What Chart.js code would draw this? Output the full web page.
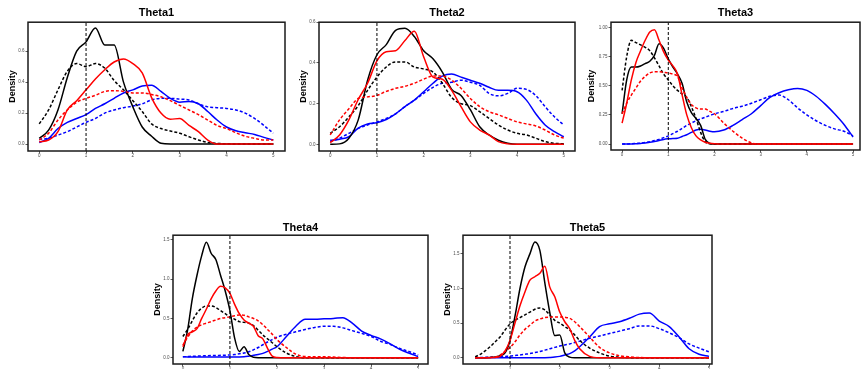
<!DOCTYPE html>
<html>
<head>
<meta charset="utf-8">
<script src="https://cdn.jsdelivr.net/npm/chart.js@4.4.1/dist/chart.umd.min.js"></script>
<style>
  html, body { margin: 0; padding: 0; background: #fff; width: 862px; height: 369px; overflow: hidden; }
  canvas { position: absolute; }
</style>
</head>
<body>
<canvas id="theta1"></canvas>
<canvas id="theta2"></canvas>
<canvas id="theta3"></canvas>
<canvas id="theta4"></canvas>
<canvas id="theta5"></canvas>
<script>
// ---- x grids (density evaluation points)
const xsCoarse = [0,0.2,0.4,0.6,0.8,1,1.2,1.4,1.6,1.8,2,2.2,2.4,2.6,2.8,3,3.2,3.4,3.6,3.8,4,4.2,4.4,4.6,4.8,5];
const xsFine   = [0,0.1,0.2,0.3,0.4,0.5,0.6,0.7,0.8,0.9,1,1.1,1.2,1.3,1.4,1.5,1.6,1.7,1.8,1.9,2,
                  2.2,2.4,2.6,2.8,3,3.2,3.4,3.6,3.8,4,4.2,4.4,4.6,4.8,5];
const xsTheta5 = [0.3,0.4,0.5,0.6,0.7,0.8,0.9,1,1.1,1.2,1.3,1.4,1.5,1.6,1.7,1.8,1.9,2,2.1,2.2,2.3,
                  2.4,2.6,2.8,3,3.2,3.4,3.6,3.8,4,4.2,4.4,4.6,4.8,5];

const trueValue = 1;

// ---- Theta1
const t1Black     = [0.037,0.09,0.22,0.43,0.6,0.66,0.75,0.64,0.64,0.4,0.24,0.11,0.05,0.005,0,0,0,0,0,0,0,0,0,0,0,0];
const t1BlackDash = [0.13,0.22,0.35,0.47,0.52,0.5,0.52,0.49,0.41,0.35,0.28,0.21,0.13,0.1,0.084,0.07,0.047,0.026,0.01,0.004,0.002,0,0,0,0,0];
const t1Red       = [0.015,0.026,0.08,0.22,0.28,0.35,0.42,0.48,0.53,0.55,0.52,0.46,0.3,0.2,0.16,0.165,0.12,0.08,0.026,0,0,0,0,0,0,0];
const t1RedDash   = [0.026,0.07,0.155,0.22,0.27,0.295,0.315,0.34,0.345,0.34,0.33,0.33,0.32,0.305,0.28,0.25,0.22,0.19,0.155,0.12,0.1,0.073,0.05,0.037,0.026,0.026];
const t1Blue      = [0.01,0.037,0.1,0.14,0.165,0.19,0.23,0.26,0.295,0.33,0.35,0.375,0.38,0.34,0.295,0.27,0.275,0.26,0.21,0.155,0.11,0.086,0.073,0.062,0.043,0.026];
const t1BlueDash  = [0.03,0.037,0.058,0.08,0.11,0.14,0.165,0.2,0.22,0.235,0.245,0.26,0.285,0.295,0.295,0.29,0.285,0.26,0.24,0.235,0.23,0.22,0.2,0.165,0.12,0.07];

// ---- Theta2
const t2Black     = [0,0.002,0.03,0.12,0.315,0.44,0.49,0.56,0.57,0.53,0.46,0.42,0.355,0.27,0.24,0.17,0.086,0.046,0.02,0.005,0,0,0,0,0,0];
const t2BlackDash = [0.054,0.086,0.135,0.19,0.265,0.33,0.38,0.405,0.405,0.38,0.37,0.355,0.3,0.23,0.2,0.19,0.16,0.127,0.095,0.07,0.054,0.046,0.03,0.013,0.005,0.002];
const t2Red       = [0.008,0.046,0.12,0.22,0.3,0.41,0.455,0.46,0.51,0.556,0.43,0.33,0.32,0.265,0.185,0.11,0.07,0.046,0.013,0.002,0,0,0,0,0,0];
const t2RedDash   = [0.046,0.12,0.175,0.225,0.233,0.24,0.26,0.275,0.285,0.3,0.32,0.335,0.335,0.315,0.275,0.225,0.185,0.16,0.145,0.127,0.11,0.1,0.09,0.07,0.046,0.03];
const t2Blue      = [0.02,0.025,0.037,0.08,0.1,0.106,0.122,0.15,0.185,0.217,0.258,0.3,0.335,0.345,0.33,0.315,0.3,0.28,0.265,0.265,0.258,0.217,0.15,0.095,0.062,0.037];
const t2BlueDash  = [0.013,0.03,0.054,0.078,0.095,0.11,0.127,0.15,0.185,0.217,0.25,0.28,0.3,0.305,0.315,0.305,0.29,0.25,0.238,0.25,0.275,0.27,0.24,0.185,0.135,0.095];

// ---- Theta3
const t3Black     = [0.26,0.55,0.66,0.66,0.67,0.69,0.71,0.76,0.86,0.82,0.73,0.66,0.6,0.52,0.36,0.27,0.22,0.16,0.04,0.005,0,
                     0,0,0,0,0,0,0,0,0,0,0,0,0,0,0];
const t3BlackDash = [0.46,0.75,0.89,0.87,0.85,0.83,0.8,0.74,0.67,0.6,0.55,0.5,0.46,0.43,0.4,0.32,0.22,0.1,0.02,0.002,0,
                     0,0,0,0,0,0,0,0,0,0,0,0,0,0,0];
const t3Red       = [0.18,0.35,0.55,0.7,0.8,0.89,0.96,0.98,0.89,0.79,0.72,0.67,0.6,0.42,0.25,0.14,0.07,0.035,0.015,0.006,0.002,
                     0,0,0,0,0,0,0,0,0,0,0,0,0,0,0];
const t3RedDash   = [0.26,0.35,0.42,0.48,0.54,0.58,0.61,0.62,0.62,0.615,0.61,0.6,0.58,0.48,0.4,0.34,0.31,0.3,0.3,0.28,0.26,
                     0.18,0.11,0.05,0.01,0,0,0,0,0,0,0,0,0,0,0];
const t3Blue      = [0,0,0.001,0.003,0.005,0.01,0.015,0.022,0.03,0.04,0.045,0.048,0.05,0.065,0.08,0.1,0.12,0.128,0.12,0.11,0.105,
                     0.12,0.16,0.21,0.26,0.33,0.4,0.44,0.465,0.477,0.46,0.41,0.34,0.26,0.17,0.06];
const t3BlueDash  = [0,0.001,0.002,0.005,0.008,0.013,0.02,0.03,0.04,0.055,0.07,0.09,0.11,0.135,0.16,0.18,0.2,0.215,0.23,0.245,0.26,
                     0.28,0.305,0.325,0.35,0.38,0.41,0.42,0.38,0.31,0.25,0.2,0.16,0.13,0.11,0.07];

// ---- Theta4
const t4Black     = [0.08,0.35,0.75,1.05,1.3,1.47,1.33,1.25,1.05,0.85,0.6,0.25,0.08,0.14,0.04,0.005,0,0,0,0,0,
                     0,0,0,0,0,0,0,0,0,0,0,0,0,0,0];
const t4BlackDash = [0.27,0.36,0.47,0.57,0.63,0.66,0.66,0.64,0.6,0.56,0.52,0.49,0.46,0.45,0.44,0.41,0.35,0.29,0.24,0.19,0.14,
                     0.06,0.015,0,0,0,0,0,0,0,0,0,0,0,0,0];
const t4Red       = [0.14,0.29,0.33,0.37,0.5,0.62,0.75,0.85,0.91,0.89,0.82,0.68,0.56,0.48,0.44,0.4,0.28,0.24,0.12,0.02,0.003,
                     0,0,0,0,0,0,0,0,0,0,0,0,0,0,0];
const t4RedDash   = [0.16,0.26,0.34,0.39,0.42,0.44,0.46,0.48,0.5,0.51,0.52,0.535,0.545,0.54,0.52,0.5,0.47,0.42,0.36,0.3,0.23,
                     0.13,0.045,0.015,0.012,0.013,0.008,0.003,0,0,0,0,0,0,0,0];
const t4Blue      = [0.012,0.01,0.01,0.01,0.01,0.01,0.01,0.01,0.01,0.01,0.01,0.01,0.01,0.012,0.02,0.03,0.04,0.055,0.08,0.11,0.14,
                     0.27,0.4,0.49,0.49,0.495,0.5,0.51,0.44,0.34,0.285,0.24,0.18,0.11,0.06,0.015];
const t4BlueDash  = [0.012,0.015,0.018,0.02,0.022,0.025,0.027,0.028,0.03,0.032,0.035,0.04,0.05,0.06,0.075,0.1,0.13,0.165,0.2,0.23,0.26,
                     0.3,0.33,0.36,0.385,0.4,0.4,0.38,0.345,0.31,0.27,0.21,0.17,0.12,0.08,0.035];

// ---- Theta5
const t5Black     = [0,0,0.002,0.005,0.01,0.03,0.07,0.25,0.6,1.0,1.31,1.5,1.67,1.55,1.08,0.65,0.32,0.33,0.07,0.01,0,
                     0,0,0,0,0,0,0,0,0,0,0,0,0,0];
const t5BlackDash = [0.014,0.05,0.1,0.16,0.23,0.3,0.4,0.49,0.54,0.58,0.62,0.66,0.7,0.72,0.69,0.62,0.54,0.5,0.45,0.4,0.33,
                     0.25,0.14,0.07,0.024,0.008,0.002,0,0,0,0,0,0,0,0];
const t5Red       = [0,0,0.001,0.002,0.005,0.02,0.1,0.25,0.5,0.75,0.95,1.12,1.17,1.22,1.32,1.02,0.88,0.66,0.52,0.42,0.25,
                     0.13,0.02,0,0,0,0,0,0,0,0,0,0,0,0];
const t5RedDash   = [0.002,0.002,0.002,0.004,0.01,0.04,0.09,0.15,0.23,0.33,0.41,0.47,0.53,0.56,0.58,0.585,0.59,0.59,0.585,0.57,0.52,
                     0.45,0.3,0.15,0.07,0.03,0.012,0.003,0,0,0,0,0,0,0];
const t5Blue      = [0,0,0,0,0,0,0,0,0,0,0,0,0,0,0.002,0.005,0.01,0.02,0.04,0.06,0.1,
                     0.16,0.3,0.45,0.49,0.52,0.57,0.63,0.645,0.53,0.45,0.3,0.13,0.05,0.02];
const t5BlueDash  = [0.002,0.004,0.006,0.008,0.011,0.015,0.02,0.024,0.032,0.04,0.05,0.06,0.075,0.09,0.11,0.13,0.15,0.17,0.185,0.2,0.22,
                     0.24,0.28,0.315,0.35,0.385,0.42,0.46,0.46,0.42,0.36,0.29,0.2,0.14,0.085];

// ---- axis ticks
const xTicksFull  = [0,1,2,3,4,5];
const xTicksTheta5 = [1,2,3,4,5];
const yTicks1 = [0,0.2,0.4,0.6];
const yTicks3 = [0,0.25,0.5,0.75,1];
const yTicks4 = [0,0.5,1,1.5];

const panels = [
  { id: 'theta1', title: 'Theta1', xs: xsCoarse, series: [t1Black,t1BlackDash,t1Red,t1RedDash,t1Blue,t1BlueDash],
    xRange: [-0.24, 5.25], yRange: [-0.045, 0.787], xTicks: xTicksFull, yTicks: yTicks1, yDec: 1 },
  { id: 'theta2', title: 'Theta2', xs: xsCoarse, series: [t2Black,t2BlackDash,t2Red,t2RedDash,t2Blue,t2BlueDash],
    xRange: [-0.24, 5.24], yRange: [-0.033, 0.6], xTicks: xTicksFull, yTicks: yTicks1, yDec: 1 },
  { id: 'theta3', title: 'Theta3', xs: xsFine, series: [t3Black,t3BlackDash,t3Red,t3RedDash,t3Blue,t3BlueDash],
    xRange: [-0.24, 5.15], yRange: [-0.051, 1.045], xTicks: xTicksFull, yTicks: yTicks3, yDec: 2 },
  { id: 'theta4', title: 'Theta4', xs: xsFine, series: [t4Black,t4BlackDash,t4Red,t4RedDash,t4Blue,t4BlueDash],
    xRange: [-0.21, 5.21], yRange: [-0.08, 1.56], xTicks: xTicksFull, yTicks: yTicks4, yDec: 1 },
  { id: 'theta5', title: 'Theta5', xs: xsTheta5, series: [t5Black,t5BlackDash,t5Red,t5RedDash,t5Blue,t5BlueDash],
    xRange: [0.055, 5.06], yRange: [-0.09, 1.77], xTicks: xTicksTheta5, yTicks: yTicks4, yDec: 1 }
];

// ---- placement of each plot box on the page
const layout = {
  theta1: { left: 28,  top: 22,  w: 257, h: 129, axisW: 28, titlePad: { top: 6, bottom: 3 } },
  theta2: { left: 319, top: 22,  w: 256, h: 129, axisW: 28, titlePad: { top: 6, bottom: 3 } },
  theta3: { left: 611, top: 22,  w: 249, h: 128, axisW: 32, titlePad: { top: 6, bottom: 3 } },
  theta4: { left: 173, top: 235, w: 255, h: 129, axisW: 28, titlePad: { top: 8, bottom: 1 } },
  theta5: { left: 463, top: 235, w: 249, h: 129, axisW: 28, titlePad: { top: 8, bottom: 1 } }
};
const TITLE_H = 22;
const XAXIS_H = 12;
const FONT = '"Liberation Sans", Arial, Helvetica, sans-serif';

// line colour / dash for the six series, in the same order as panel.series
const seriesStyle = [
  { color: '#000000', dash: [] },
  { color: '#000000', dash: [3, 2] },
  { color: '#ff0000', dash: [] },
  { color: '#ff0000', dash: [3, 2] },
  { color: '#0000ff', dash: [] },
  { color: '#0000ff', dash: [3, 2] }
];
const drawOrder = [2, 3, 0, 1, 4, 5]; // first = top

const boxPlugin = {
  id: 'panelBox',
  afterDraw(chart) {
    const { ctx, chartArea: a } = chart;
    ctx.save();
    ctx.strokeStyle = '#1a1a1a';
    ctx.lineWidth = 1.5;
    ctx.strokeRect(a.left, a.top, a.right - a.left, a.bottom - a.top);
    ctx.restore();
  }
};

const charts = {};

function drawPanel(p) {
  const L = layout[p.id];
  const canvas = document.getElementById(p.id);
  canvas.width  = L.axisW * 2 + L.w;
  canvas.height = TITLE_H + L.h + XAXIS_H;
  canvas.style.left = (L.left - L.axisW) + 'px';
  canvas.style.top  = (L.top - TITLE_H) + 'px';

  // ---- datasets
  const datasets = [{
    label: 'true value',
    data: [{ x: trueValue, y: p.yRange[0] }, { x: trueValue, y: p.yRange[1] }],
    borderColor: '#000', borderWidth: 1, borderDash: [3, 2],
    pointRadius: 0, fill: false
  }];
  drawOrder.forEach(function (k) {
    const ys = p.series[k];
    datasets.push({
      data: p.xs.map((x, i) => ({ x: x, y: ys[i] })),
      borderColor: seriesStyle[k].color,
      borderDash: seriesStyle[k].dash,
      borderWidth: 1.5,
      pointRadius: 0,
      fill: false,
      cubicInterpolationMode: 'monotone'
    });
  });

  const tickFont = { family: FONT, size: 4.5 };
  charts[p.id] = new Chart(canvas, {
    type: 'line',
    data: { datasets: datasets },
    plugins: [boxPlugin],
    options: {
      responsive: false,
      animation: false,
      layout: { padding: 0 },
      plugins: {
        legend: { display: false },
        tooltip: { enabled: false },
        title: {
          display: true, text: p.title, color: '#000',
          font: { family: FONT, size: 11, weight: 'bold', lineHeight: 1.2 },
          padding: L.titlePad
        }
      },
      scales: {
        x: {
          type: 'linear', min: p.xRange[0], max: p.xRange[1],
          afterBuildTicks: s => { s.ticks = p.xTicks.map(v => ({ value: v })); },
          afterFit: s => { s.height = XAXIS_H; },
          ticks: { color: '#4d4d4d', font: tickFont, padding: 0, maxRotation: 0, autoSkip: false,
                   callback: v => String(v) },
          grid: { drawOnChartArea: false, drawTicks: true, tickLength: 2.5, color: '#333', lineWidth: 0.8 },
          border: { display: false }
        },
        y: {
          type: 'linear', min: p.yRange[0], max: p.yRange[1],
          afterBuildTicks: s => { s.ticks = p.yTicks.map(v => ({ value: v })); },
          afterFit: s => { s.width = L.axisW; },
          ticks: { color: '#4d4d4d', font: tickFont, padding: 1,
                   callback: v => Number(v).toFixed(p.yDec) },
          grid: { drawOnChartArea: false, drawTicks: true, tickLength: 2.5, color: '#333', lineWidth: 0.8 },
          border: { display: false },
          title: { display: true, text: 'Density', color: '#000',
                   font: { family: FONT, size: 9, weight: 'bold', lineHeight: 1.2 },
                   padding: { top: 7.5, bottom: 0 } }
        },
        yRight: {
          position: 'right', min: 0, max: 1, display: true,
          afterFit: s => { s.width = L.axisW; },
          ticks: { display: false },
          grid: { display: false },
          border: { display: false }
        }
      }
    }
  });
}

(function () {
  "use strict";
  panels.forEach(drawPanel);
})();
</script>
</body>
</html>
